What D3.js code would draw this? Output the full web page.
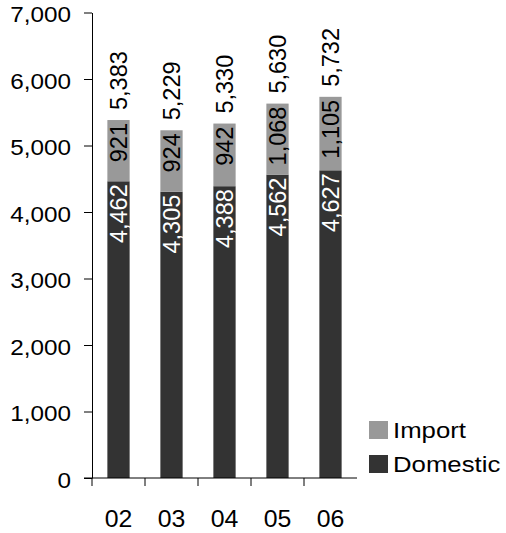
<!DOCTYPE html>
<html>
<head>
<meta charset="utf-8">
<script src="https://cdn.jsdelivr.net/npm/d3@7"></script>
<style>
  body { margin: 0; background: #fff; }
  text { font-family: "Liberation Sans", Arial, sans-serif; fill: #000; }
</style>
</head>
<body>
<script>
/* Data */

var YEARS    = ["02", "03", "04", "05", "06"];
var DOMESTIC = [4462, 4305, 4388, 4562, 4627];
var IMPORT   = [921, 924, 942, 1068, 1105];
var TOTALS   = [5383, 5229, 5330, 5630, 5732];
var Y_TICKS  = [0, 1000, 2000, 3000, 4000, 5000, 6000, 7000];
var SERIES   = ["Domestic", "Import"];

/* Measures */

var W = 506,
    H = 533;

var X_LEFT = 92, X_RIGHT = 357,
    Y_TOP = 12.5, Y_BOTTOM = 478;

var FONT_SIZE = 23.5,
    STRETCH   = 1.08;

var COLORS = { Domestic: "#333333", Import: "#999999" };

var fmt = d3.format(",");

var svg = d3.select("body").append("svg")
    .attr("width", W)
    .attr("height", H);

var x = d3.scaleBand()
    .domain(YEARS)
    .range([X_LEFT, X_RIGHT])
    .paddingInner(0.58)
    .paddingOuter(0.29);

var y = d3.scaleLinear()
    .domain([0, 7000])
    .range([Y_BOTTOM, Y_TOP]);

var rows = YEARS.map(function(yr, i) {
    return { year: yr, Domestic: DOMESTIC[i], Import: IMPORT[i], total: TOTALS[i] };
});

var stacked = d3.stack().keys(SERIES)(rows);

/* Bars */

var layers = svg.append("g").selectAll("g")
    .data(stacked)
    .enter().append("g")
    .attr("fill", function(d) { return COLORS[d.key]; });

layers.selectAll("rect")
    .data(function(d) { return d; })
    .enter().append("rect")
    .attr("x", function(d) { return x(d.data.year); })
    .attr("y", function(d) { return y(d[1]); })
    .attr("width", x.bandwidth())
    .attr("height", function(d) { return y(d[0]) - y(d[1]); });

/* Segment labels (rotated, anchored at segment top) */

stacked.forEach(function(layer) {
    svg.append("g").selectAll("text")
        .data(layer)
        .enter().append("text")
        .attr("transform", function(d) {
            return "translate(" + (x(d.data.year) + x.bandwidth() / 2) + "," + (y(d[1]) + 3) + ") rotate(-90)";
        })
        .attr("dy", "0.36em")
        .attr("text-anchor", "end")
        .style("font-size", FONT_SIZE + "px")
        .style("fill", layer.key === "Domestic" ? "#fff" : "#000")
        .text(function(d) { return fmt(d.data[layer.key]); });
});

/* Total labels */

svg.append("g").selectAll("text")
    .data(rows)
    .enter().append("text")
    .attr("transform", function(d) {
        return "translate(" + (x(d.year) + x.bandwidth() / 2) + "," + (y(d.total) - 10) + ") rotate(-90)";
    })
    .attr("dy", "0.36em")
    .attr("text-anchor", "start")
    .style("font-size", FONT_SIZE + "px")
    .text(function(d) { return fmt(d.total); });

/* Y axis */

var yAxis = svg.append("g")
    .attr("transform", "translate(" + X_LEFT + ",0)")
    .call(d3.axisLeft(y).tickValues(Y_TICKS).tickSize(8).tickSizeOuter(0).tickFormat(fmt));

yAxis.select(".domain").attr("stroke", "#000");
yAxis.selectAll(".tick line").attr("stroke", "#000");
yAxis.selectAll(".tick text")
    .attr("x", -21 / STRETCH)
    .attr("dy", "0.42em")
    .attr("transform", "scale(" + STRETCH + ",1)")
    .style("font-size", "22.5px")
    .style("font-family", "'Liberation Sans', Arial, sans-serif")
    .attr("fill", "#000");

/* X axis */

var xAxis = svg.append("g")
    .attr("transform", "translate(0," + Y_BOTTOM + ")");

xAxis.append("line")
    .attr("x1", X_LEFT - 8).attr("x2", X_RIGHT)
    .attr("stroke", "#000");

xAxis.selectAll("line.tick")
    .data(YEARS)
    .enter().append("line")
    .attr("class", "tick")
    .attr("x1", function(d) { return x(d) - x.step() * x.paddingInner() / 2; })
    .attr("x2", function(d) { return x(d) - x.step() * x.paddingInner() / 2; })
    .attr("y1", 0).attr("y2", 8)
    .attr("stroke", "#000");

xAxis.selectAll("text")
    .data(YEARS)
    .enter().append("text")
    .attr("transform", function(d) {
        return "translate(" + (x(d) + x.bandwidth() / 2) + ",49) scale(" + STRETCH + ",1)";
    })
    .attr("text-anchor", "middle")
    .style("font-size", "23px")
    .text(function(d) { return d; });

/* Legend */

var legend = svg.append("g").selectAll("g")
    .data(SERIES.slice().reverse())
    .enter().append("g")
    .attr("transform", function(d, i) { return "translate(369," + (421 + i * 34) + ")"; });

legend.append("rect")
    .attr("width", 19)
    .attr("height", 18)
    .attr("fill", function(d) { return COLORS[d]; });

legend.append("text")
    .attr("transform", "translate(24,17) scale(1.12,1)")
    .style("font-size", "23px")
    .text(function(d) { return d; });
</script>
</body>
</html>
